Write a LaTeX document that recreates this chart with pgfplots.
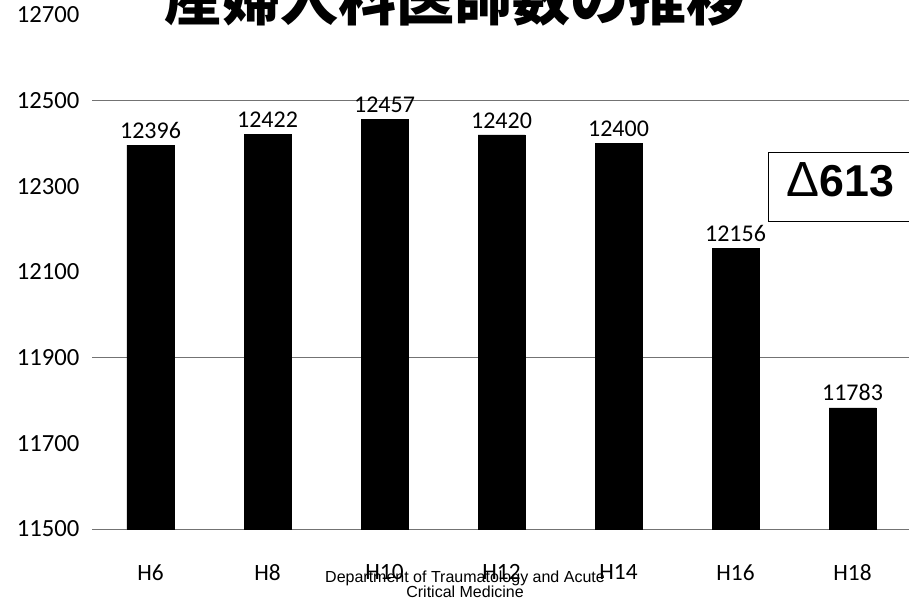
\documentclass[border=0pt]{standalone}
\usepackage{pgfplots}
\pgfplotsset{compat=1.18}
\usepackage{fontspec}
\setmainfont{Carlito}
\newfontfamily\cjk{Noto Sans CJK JP}
\newfontfamily\arial{Liberation Sans}
\begin{document}
\begin{tikzpicture}
% page = 909 x 605 px at 0.75pt per px
\path[use as bounding box, clip] (0,0) rectangle (681.75pt,453.75pt);
\begin{axis}[
  at={(69pt,57pt)}, anchor=south west,
  scale only axis, width=614.25pt, height=385.5pt,
  xmin=-0.5, xmax=6.5, ymin=11500, ymax=12700,
  ybar, bar width=35.25pt, bar shift=0pt,
  xtick=data, xticklabels={H6,H8,H10,H12,H14,H16,H18},
  xticklabel style={font=\fontsize{17.5}{20}\selectfont, yshift=-23pt},
  ytick={11500,11700,...,12700}, scaled y ticks=false,
  yticklabel style={font=\fontsize{18.5}{20}\selectfont, xshift=-6pt,
    /pgf/number format/set thousands separator={}},
  /pgf/number format/assume math mode=true,
  axis line style={draw=none}, major tick length=0pt,
  extra y ticks={11500,11900,12500}, extra y tick labels={},
  extra y tick style={grid=major, major grid style={black!55, thin}},
  nodes near coords,
  nodes near coords style={font=\fontsize{18}{20}\selectfont, black,
    /pgf/number format/set thousands separator={}, yshift=1.5pt},
  clip=false,
]
\addplot[fill=black, draw=black] coordinates
  {(0,12396) (1,12422) (2,12457) (3,12420) (4,12400) (5,12156) (6,11783)};
\end{axis}
\node[anchor=base, font=\cjk\bfseries\fontsize{43.5}{50}\selectfont] at (341pt,438pt) {産婦人科医師数の推移};
\draw[thin] (576pt,288pt) rectangle (700pt,339.75pt);
\node[anchor=base west, inner sep=0pt, font=\arial\bfseries\fontsize{33.5}{40}\selectfont] at (590pt,306pt) {{\mdseries\fontsize{37}{40}\selectfont Δ}613};
\node[anchor=north, inner sep=0pt, align=center, font=\arial\fontsize{12}{11.5}\selectfont] at (348.75pt,26pt) {Department of Traumatology and Acute\\Critical Medicine};
\end{tikzpicture}
\end{document}
